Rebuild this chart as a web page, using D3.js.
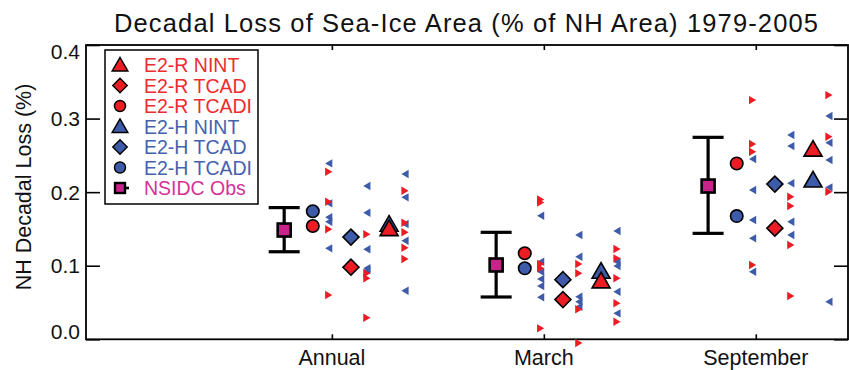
<!DOCTYPE html>
<html>
<head>
<meta charset="utf-8">
<script src="https://cdn.jsdelivr.net/npm/d3@7"></script>
<style>
  html, body { margin: 0; padding: 0; background: #fff; }
  svg { display: block; font-family: "Liberation Sans", Arial, Helvetica, sans-serif; }
</style>
</head>
<body>
<svg id="chart" width="849" height="370"></svg>
<script>
// ---- data -------------------------------------------------------------
const categories = ["Annual", "March", "September"];
const yTickValues = [0.0, 0.1, 0.2, 0.3, 0.4];
const seriesLabels = ["E2-R NINT", "E2-R TCAD", "E2-R TCADI", "E2-H NINT", "E2-H TCAD", "E2-H TCADI", "NSIDC Obs"];

// observed trend with its uncertainty range
const obsMean = [0.1485, 0.101, 0.2083];
const obsLow  = [0.119, 0.0575, 0.144];
const obsHigh = [0.179, 0.1454, 0.2745];

// ensemble means
const rNint  = [0.148, 0.077, 0.256];
const rTcad  = [0.098, 0.054, 0.151];
const rTcadi = [0.154, 0.117, 0.239];
const hNint  = [0.154, 0.090, 0.214];
const hTcad  = [0.139, 0.081, 0.211];
const hTcadi = [0.174, 0.0965, 0.1675];

// individual ensemble members (per category)
const rTcadiMembers = [
  [0.2277, 0.187, 0.1495, 0.0602],
  [0.190, 0.186, 0.1023, 0.0965, 0.0149],
  [0.3251, 0.2654, 0.2549, 0.101]
];
const hTcadiMembers = [
  [0.2391, 0.1848, 0.1658, 0.1598, 0.1236],
  [0.168, 0.1054, 0.0918, 0.0819, 0.0724, 0.0571],
  [0.245, 0.2029, 0.1621, 0.1372, 0.0918]
];
const rTcadMembers = [
  [0.1427, 0.0897, 0.0829, 0.0293],
  [0.1023, 0.0897, 0.0408, -0.005],
  [0.1938, 0.1811, 0.1281, 0.0588]
];
const hTcadMembers = [
  [0.2083, 0.172, 0.1223, 0.0965, 0.094],
  [0.1417, 0.1122, 0.0579, 0.0511, 0.0443],
  [0.2776, 0.2626, 0.212, 0.1598, 0.1417]
];
const rNintMembers = [
  [0.2019, 0.1585, 0.1454, 0.1245, 0.1091],
  [0.1227, 0.110, 0.0829, 0.0489, 0.0239],
  [0.3319, 0.2753, 0.2005]
];
const hNintMembers = [
  [0.2246, 0.1929, 0.1567, 0.134, 0.066],
  [0.1471, 0.1054, 0.0996, 0.0647, 0.0353],
  [0.3034, 0.2671, 0.2436, 0.2065, 0.0511]
];

// ---- setup ------------------------------------------------------------
const RED = "#EC1C24", BLUE = "#3D5BA9", MAG = "#C9238B";
const RED_T = "#EE2B2F", BLUE_T = "#4562AE", MAG_T = "#D4329A";

const svg = d3.select("#chart");
const plotLeft = 86, plotRight = 848, plotTop = 45, plotBottom = 339.3;

const x = d3.scaleLinear().domain([-0.16, 3.435]).range([plotLeft, plotRight]);
const y = d3.scaleLinear().domain([0, 0.4]).range([plotBottom, plotTop]);

// horizontal placement of each marker family around the category position
const off = { obs: -0.225, circ: -0.09, col1: -0.015, diam: 0.09, col2: 0.165, tri: 0.27, col3: 0.345 };

// ---- frame and axes ---------------------------------------------------
const minorTicks = d3.range(0, 0.4001, 0.01).map(v => +v.toFixed(2));

const gL = svg.append("g").attr("transform", `translate(${plotLeft},0)`);
gL.call(d3.axisRight(y).tickValues(minorTicks).tickSize(7).tickFormat(""));
gL.call(d3.axisRight(y).tickValues(yTickValues).tickSize(14).tickFormat(""));
const gR = svg.append("g").attr("transform", `translate(${plotRight},0)`);
gR.call(d3.axisLeft(y).tickValues(minorTicks).tickSize(7).tickFormat(""));
gR.call(d3.axisLeft(y).tickValues(yTickValues).tickSize(14).tickFormat(""));
const gB = svg.append("g").attr("transform", `translate(0,${plotBottom})`);
gB.call(d3.axisTop(x).tickValues([1, 2, 3]).tickSize(5).tickFormat(""));
const gT = svg.append("g").attr("transform", `translate(0,${plotTop})`);
gT.call(d3.axisBottom(x).tickValues([1, 2, 3]).tickSize(5).tickFormat(""));

svg.selectAll(".domain").remove();
svg.selectAll(".tick line").attr("stroke", "#000").attr("stroke-width", 1.6);

svg.append("rect")
  .attr("x", plotLeft).attr("y", plotTop)
  .attr("width", plotRight - plotLeft).attr("height", plotBottom - plotTop)
  .attr("fill", "none").attr("stroke", "#000").attr("stroke-width", 1.8);

// y tick labels (end labels kept inside the frame)
svg.append("g").selectAll("text").data(yTickValues).join("text")
  .attr("x", 80)
  .attr("y", d => y(d))
  .attr("dy", (d, i) => i === 0 ? "0.0em" : i === yTickValues.length - 1 ? "0.66em" : "0.35em")
  .attr("text-anchor", "end")
  .attr("font-size", 21)
  .attr("fill", "#111")
  .text(d => d.toFixed(1));

// category labels
svg.append("g").selectAll("text").data(categories).join("text")
  .attr("x", (d, i) => x(i + 1))
  .attr("y", 365)
  .attr("text-anchor", "middle")
  .attr("font-size", 21.5)
  .attr("fill", "#111")
  .text(d => d);

// axis title
svg.append("text")
  .attr("transform", `translate(31,187) rotate(-90)`)
  .attr("text-anchor", "middle")
  .attr("font-size", 21.5)
  .attr("fill", "#111")
  .text("NH Decadal Loss (%)");

// chart title
svg.append("text")
  .attr("x", 466).attr("y", 32)
  .attr("text-anchor", "middle")
  .attr("font-size", 25.5)
  .attr("textLength", 704)
  .attr("lengthAdjust", "spacing")
  .attr("fill", "#111")
  .text("Decadal Loss of Sea-Ice Area (% of NH Area) 1979-2005");

// ---- ensemble members: small pointers ---------------------------------
const rightTri = "M-3.6,-4.2L3.6,0L-3.6,4.2Z";
const leftTri  = "M3.6,-4.2L-3.6,0L3.6,4.2Z";

function members(sets, offset, path, color) {
  const pts = [];
  sets.forEach((vals, i) => vals.forEach(v => pts.push({ c: i + 1, v })));
  svg.append("g").selectAll("path").data(pts).join("path")
    .attr("d", path)
    .attr("transform", d => `translate(${x(d.c + offset)},${y(d.v)})`)
    .attr("fill", color);
}
members(hTcadiMembers, off.col1, leftTri, BLUE);
members(rTcadiMembers, off.col1, rightTri, RED);
members(hTcadMembers, off.col2, leftTri, BLUE);
members(rTcadMembers, off.col2, rightTri, RED);
members(hNintMembers, off.col3, leftTri, BLUE);
members(rNintMembers, off.col3, rightTri, RED);

// ---- ensemble means: outlined symbols ---------------------------------
function means(vals, offset, type, size, color, rot) {
  svg.append("g").selectAll("path").data(vals).join("path")
    .attr("d", d3.symbol().type(type).size(size))
    .attr("transform", (d, i) => `translate(${x(i + 1 + offset)},${y(d)}) rotate(${rot || 0})`)
    .attr("fill", color)
    .attr("stroke", "#000")
    .attr("stroke-width", 1.6)
    .attr("stroke-linejoin", "miter");
}
means(hTcadi, off.circ, d3.symbolCircle, 122, BLUE);
means(rTcadi, off.circ, d3.symbolCircle, 122, RED);
means(hTcad, off.diam, d3.symbolSquare, 128, BLUE, 45);
means(rTcad, off.diam, d3.symbolSquare, 128, RED, 45);
means(hNint, off.tri, d3.symbolTriangle, 140, BLUE);
means(rNint, off.tri, d3.symbolTriangle, 140, RED);

// ---- observations with range -----------------------------------------
const gObs = svg.append("g");
const obs = obsMean.map((m, i) => ({ c: i + 1, m, lo: obsLow[i], hi: obsHigh[i] }));
gObs.selectAll("line.stem").data(obs).join("line")
  .attr("x1", d => x(d.c + off.obs)).attr("x2", d => x(d.c + off.obs))
  .attr("y1", d => y(d.lo)).attr("y2", d => y(d.hi))
  .attr("stroke", "#000").attr("stroke-width", 3.2);
["lo", "hi"].forEach(k => {
  gObs.selectAll("line.cap-" + k).data(obs).join("line")
    .attr("class", "cap-" + k)
    .attr("x1", d => x(d.c + off.obs) - 15.5).attr("x2", d => x(d.c + off.obs) + 15.5)
    .attr("y1", d => y(d[k])).attr("y2", d => y(d[k]))
    .attr("stroke", "#000").attr("stroke-width", 3.2);
});
gObs.selectAll("rect").data(obs).join("rect")
  .attr("x", d => x(d.c + off.obs) - 6.5).attr("y", d => y(d.m) - 6.5)
  .attr("width", 13).attr("height", 13)
  .attr("fill", MAG).attr("stroke", "#000").attr("stroke-width", 2.6);

// ---- legend -----------------------------------------------------------
const legend = svg.append("g");
legend.append("rect")
  .attr("x", 105).attr("y", 50).attr("width", 153).attr("height", 154)
  .attr("fill", "#fff").attr("stroke", "#000").attr("stroke-width", 1.5);

const legendItems = seriesLabels.map((label, i) => ({
  label,
  type: [d3.symbolTriangle, d3.symbolSquare, d3.symbolCircle][i % 3],
  color: i < 3 ? RED : i < 6 ? BLUE : MAG,
  text: i < 3 ? RED_T : i < 6 ? BLUE_T : MAG_T,
  obs: i === 6
}));
const rowY = i => 65 + i * 20.5;
legend.selectAll("path.sym").data(legendItems.filter(d => !d.obs)).join("path")
  .attr("d", d => d3.symbol().type(d.type).size(d.type === d3.symbolTriangle ? 108 : d.type === d3.symbolSquare ? 104 : 96)())
  .attr("transform", (d, i) => `translate(120,${rowY(i) + (d.type === d3.symbolTriangle ? 1.5 : 0)}) rotate(${d.type === d3.symbolSquare ? 45 : 0})`)
  .attr("fill", d => d.color).attr("stroke", "#000").attr("stroke-width", 1.4);
legend.append("line")
  .attr("x1", 120).attr("x2", 129).attr("y1", rowY(6)).attr("y2", rowY(6))
  .attr("stroke", "#000").attr("stroke-width", 2.6);
legend.append("rect")
  .attr("x", 115).attr("y", rowY(6) - 5).attr("width", 10).attr("height", 10)
  .attr("fill", MAG).attr("stroke", "#000").attr("stroke-width", 2.4);
legend.selectAll("text").data(legendItems).join("text")
  .attr("x", 144).attr("y", (d, i) => rowY(i))
  .attr("dy", "0.36em")
  .attr("font-size", 19.5)
  .attr("fill", d => d.text)
  .text(d => d.label);
</script>
</body>
</html>
